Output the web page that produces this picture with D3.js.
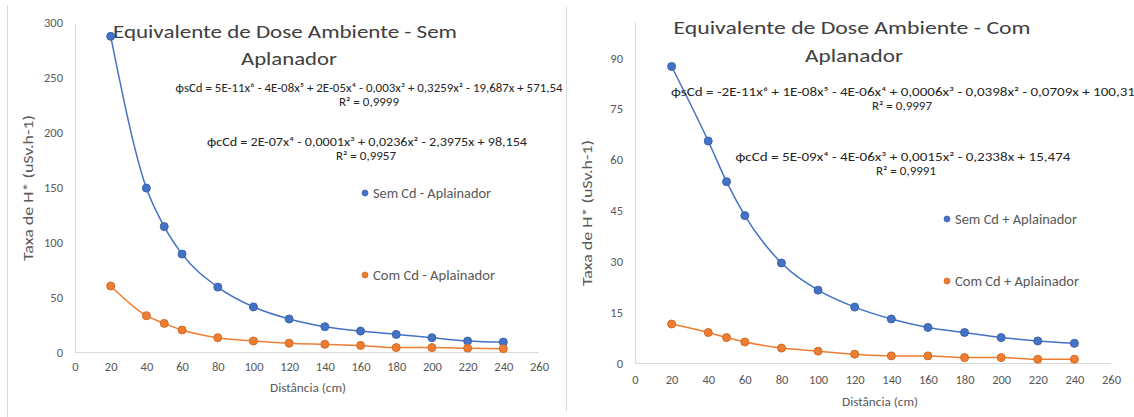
<!DOCTYPE html>
<html>
<head>
<meta charset="utf-8">
<script src="https://cdn.jsdelivr.net/npm/d3@7"></script>
<style>
  body { margin: 0; background: #fff; }
  svg text { font-family: Carlito, Calibri, "Open Sans", "Noto Sans", sans-serif; font-weight: 400; }
</style>
</head>
<body>
<div id="container"></div>
<script>
// distances (cm)
const distances = [20, 40, 50, 60, 80, 100, 120, 140, 160, 180, 200, 220, 240];

// left chart: sem aplanador
const semCdSemApl = [287, 149, 114, 89, 59, 41, 30, 23, 19, 16, 13, 10, 9];
const comCdSemApl = [60, 33, 26, 20, 13, 10, 8, 7, 6, 4, 4, 3.5, 3];

// right chart: com aplanador
const semCdComApl = [87.5, 65.5, 53.5, 43.5, 29.5, 21.5, 16.5, 13, 10.5, 9, 7.5, 6.5, 5.8];
const comCdComApl = [11.5, 9, 7.5, 6.2, 4.4, 3.5, 2.6, 2.1, 2.1, 1.6, 1.6, 1.1, 1.1];

const xTicks = [0, 20, 40, 60, 80, 100, 120, 140, 160, 180, 200, 220, 240, 260];
const leftYTicks = [0, 50, 100, 150, 200, 250, 300];
const rightYTicks = [0, 15, 30, 45, 60, 75, 90];

const blue = "#4472c4", blueDark = "#3b63ad";
const orange = "#ed7d31", orangeDark = "#d46a24";

const svg = d3.select("#container")
    .append("svg")
        .attr("width", 1134)
        .attr("height", 417);

svg.append("rect").attr("width", 1134).attr("height", 417).attr("fill", "#fff");

// panel frame lines
svg.append("line").attr("x1", 7.5).attr("x2", 7.5).attr("y1", 5).attr("y2", 417)
    .attr("stroke", "#d9d9d9");
svg.append("line").attr("x1", 566.5).attr("x2", 566.5).attr("y1", 7).attr("y2", 411)
    .attr("stroke", "#d9d9d9");

function fitText(sel, w) {
    // squeeze the text to the width
    sel.attr("textLength", w).attr("lengthAdjust", "spacingAndGlyphs");
}

function drawChart(cfg) {
    const x = d3.scaleLinear().domain([0, 260]).range(cfg.xRange);
    const y = d3.scaleLinear().domain(cfg.yDomain).range(cfg.yRange);
    const g = svg.append("g");

    // axis lines
    g.append("line")
        .attr("x1", x(0) + 0.5).attr("x2", x(0) + 0.5)
        .attr("y1", cfg.axisTop).attr("y2", y(0))
        .attr("stroke", "#d9d9d9");
    g.append("line")
        .attr("x1", x(0)).attr("x2", x(260))
        .attr("y1", y(0) + 0.5).attr("y2", y(0) + 0.5)
        .attr("stroke", "#d9d9d9");

    // x axis
    const xAxis = g.append("g")
        .attr("transform", "translate(0," + y(0) + ")")
        .call(d3.axisBottom(x).tickValues(xTicks).tickSize(0).tickPadding(cfg.xPad));
    xAxis.select(".domain").remove();
    xAxis.selectAll("text").attr("fill", "#595959").style("font-size", "12.5px");

    // y axis
    const yAxis = g.append("g")
        .attr("transform", "translate(" + x(0) + ",0)")
        .call(d3.axisLeft(y).tickValues(cfg.yTicks).tickSize(0).tickPadding(12));
    yAxis.select(".domain").remove();
    yAxis.selectAll("text").attr("fill", "#595959").style("font-size", "12.5px");

    // axis titles
    g.append("text")
        .attr("x", cfg.xTitle[0]).attr("y", cfg.xTitle[1])
        .attr("text-anchor", "middle")
        .attr("fill", "#595959")
        .style("font-size", "13px")
        .text("Distância (cm)")
        .call(fitText, 76);
    g.append("text")
        .attr("transform", "translate(" + cfg.yTitle[0] + "," + cfg.yTitle[1] + ") rotate(-90)")
        .attr("text-anchor", "middle")
        .attr("fill", "#595959")
        .style("font-size", "14px")
        .text("Taxa de H* (uSv.h-1)")
        .call(fitText, 146);

    // title
    cfg.title.forEach(t => {
        g.append("text")
            .attr("x", t.x).attr("y", t.y)
            .attr("text-anchor", "middle")
            .attr("fill", "#404040")
            .style("font-size", "18px")
            .text(t.text)
            .call(fitText, t.w);
    });

    // series
    cfg.series.forEach(s => {
        const pts = distances.map((d, i) => ({ x: d, y: s.values[i] }));
        g.append("path")
            .datum(pts)
            .attr("fill", "none")
            .attr("stroke", s.color)
            .attr("stroke-width", 1.5)
            .attr("d", d3.line()
                .x(d => x(d.x))
                .y(d => y(d.y))
                .curve(d3.curveMonotoneX)
            );
        g.selectAll(null)
            .data(pts)
            .enter().append("circle")
            .attr("cx", d => x(d.x))
            .attr("cy", d => y(d.y))
            .attr("r", 4)
            .attr("fill", s.color)
            .attr("stroke", s.dark)
            .attr("stroke-width", 1);

        // legend entry
        g.append("circle")
            .attr("cx", s.legend[0]).attr("cy", s.legend[1])
            .attr("r", 3)
            .attr("fill", s.color)
            .attr("stroke", s.dark)
            .attr("stroke-width", 0.8);
        g.append("text")
            .attr("x", s.legend[0] + 8).attr("y", s.legend[1] + 5)
            .attr("fill", "#595959")
            .style("font-size", "14px")
            .text(s.name)
            .call(fitText, s.legendW);
    });

    // trendline equations
    cfg.equations.forEach(e => {
        g.append("text")
            .attr("x", e.x).attr("y", e.y)
            .attr("text-anchor", "middle")
            .attr("fill", "#262626")
            .style("font-size", "12px")
            .text(e.eq)
            .call(fitText, e.w);
        g.append("text")
            .attr("x", e.rx).attr("y", e.y + 14)
            .attr("text-anchor", "middle")
            .attr("fill", "#262626")
            .style("font-size", "12px")
            .text(e.r2)
            .call(fitText, 60);
    });
}

drawChart({
    xRange: [75, 539],
    yDomain: [0, 300],
    yRange: [352, 22],
    axisTop: 24,
    yTicks: leftYTicks,
    xPad: 10,
    xTitle: [308, 392],
    yTitle: [33, 188],
    title: [
        { text: "Equivalente de Dose Ambiente - Sem", x: 285, y: 38, w: 344 },
        { text: "Aplanador", x: 289, y: 65, w: 96 }
    ],
    series: [
        { name: "Sem Cd - Aplainador", values: semCdSemApl, color: blue, dark: blueDark, legend: [365, 193], legendW: 118 },
        { name: "Com Cd - Aplainador", values: comCdSemApl, color: orange, dark: orangeDark, legend: [365, 275], legendW: 122 }
    ],
    equations: [
        { eq: "ϕsCd = 5E-11x⁶ - 4E-08x⁵ + 2E-05x⁴ - 0,003x³ + 0,3259x² - 19,687x + 571,54",
          r2: "R² = 0,9999", x: 369, y: 92, w: 387, rx: 369 },
        { eq: "ϕcCd  = 2E-07x⁴ - 0,0001x³ + 0,0236x² - 2,3975x + 98,154",
          r2: "R² = 0,9957", x: 367, y: 146, w: 320, rx: 366 }
    ]
});

drawChart({
    xRange: [635, 1111],
    yDomain: [0, 90],
    yRange: [363, 58],
    axisTop: 22,
    yTicks: rightYTicks,
    xPad: 12,
    xTitle: [880, 406],
    yTitle: [592, 213],
    title: [
        { text: "Equivalente de Dose Ambiente - Com", x: 852, y: 34, w: 357 },
        { text: "Aplanador", x: 854, y: 62, w: 98 }
    ],
    series: [
        { name: "Sem Cd + Aplainador", values: semCdComApl, color: blue, dark: blueDark, legend: [947, 219], legendW: 122 },
        { name: "Com Cd + Aplainador", values: comCdComApl, color: orange, dark: orangeDark, legend: [947, 281], legendW: 124 }
    ],
    equations: [
        { eq: "ϕsCd = -2E-11x⁶ + 1E-08x⁵ - 4E-06x⁴ + 0,0006x³ - 0,0398x² - 0,0709x + 100,31",
          r2: "R² = 0,9997", x: 903, y: 96, w: 464, rx: 902 },
        { eq: "ϕcCd  = 5E-09x⁴ - 4E-06x³ + 0,0015x² - 0,2338x + 15,474",
          r2: "R² = 0,9991", x: 903, y: 161, w: 335, rx: 906 }
    ]
});
</script>
</body>
</html>
